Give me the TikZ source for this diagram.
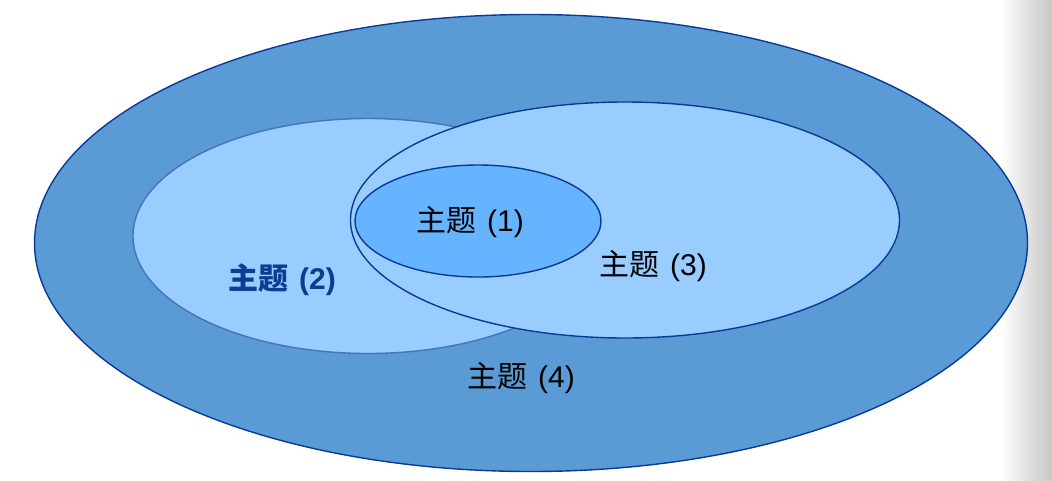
\documentclass[tikz,border=0pt]{standalone}
\usepackage{fontspec}
\newfontfamily\cjk{Noto Sans CJK SC}
\newfontfamily\latin{Liberation Sans}
\usetikzlibrary{shapes.geometric}
\definecolor{outerblue}{HTML}{5B9BD5}
\definecolor{paleblue}{HTML}{99CCFF}
\definecolor{coreblue}{HTML}{66B3FF}
\definecolor{navy}{HTML}{0A3A99}
\definecolor{softnavy}{HTML}{4673BC}
\definecolor{tagblue}{HTML}{0B3D91}
\newcommand{\topic}[1]{\cjk 主题\hspace{11pt}{\latin(#1)}}

\begin{document}
\begin{tikzpicture}[x=1pt,y=-1pt,
  bubble/.style={ellipse, draw=navy, line width=1.4pt, inner sep=0pt},
  tag/.style={font=\fontsize{30}{36}\selectfont, text=black, inner sep=0pt}]
  \useasboundingbox (0,0) rectangle (1052,480);
  % grey edge on the right of the page
  \shade[left color=white, right color=black!22] (1000,0) rectangle (1052,480);
  % topic (4): the outer ring
  \node[bubble, fill=outerblue, minimum width=993pt, minimum height=457pt] (t4) at (531,243) {};
  % topic (2): drawn before (3) so that (3) covers it
  \node[bubble, draw=softnavy, fill=paleblue, minimum width=470pt, minimum height=235pt] (t2) at (368,236) {};
  % topic (3)
  \node[bubble, fill=paleblue, minimum width=549pt, minimum height=236pt] (t3) at (625,220) {};
  % topic (1): the core
  \node[bubble, fill=coreblue, minimum width=246pt, minimum height=112pt] (t1) at (478,221) {};
  % labels
  \node[tag] (l1) at (470,222) {\topic{1}};
  \node[tag, font=\bfseries\fontsize{30}{36}\selectfont, text=tagblue] (l2) at (282,280) {\topic{2}};
  \node[tag] (l3) at (653,266) {\topic{3}};
  \node[tag] (l4) at (521,378) {\topic{4}};
\end{tikzpicture}
\end{document}
